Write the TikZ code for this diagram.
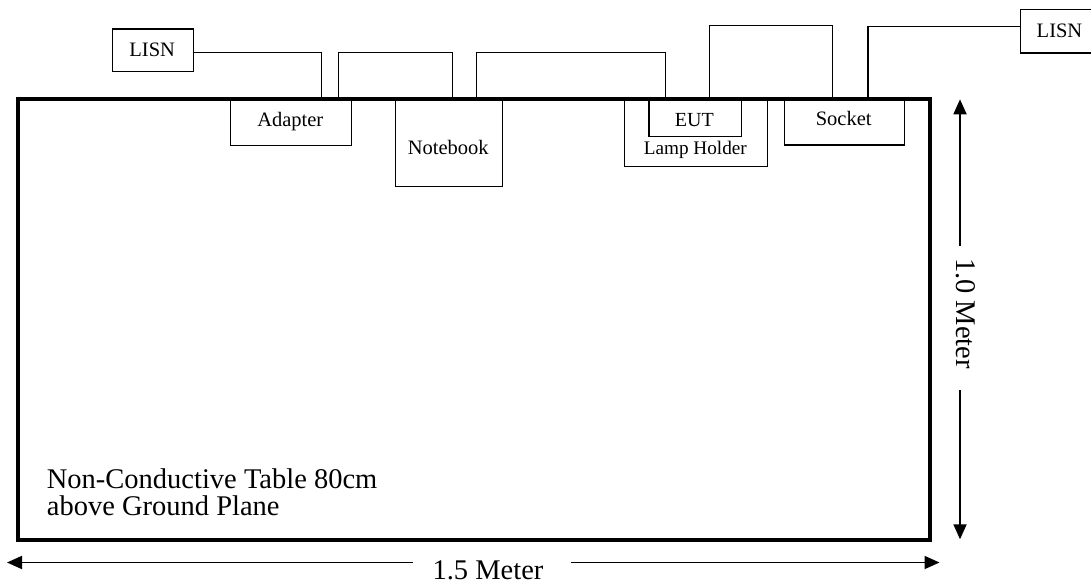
\documentclass[tikz,border=0pt]{standalone}
\usepackage{fontspec}
\setmainfont{Liberation Serif}
\usetikzlibrary{arrows.meta}
\tikzset{
  box/.style={draw, line width=1.3pt, inner sep=0pt, anchor=north west,
    font=\fontsize{20.5}{24}\selectfont},
  wire/.style={line width=1.3pt},
  table/.style={line width=4pt},
  dim/.style={line width=1.8pt, -{Triangle[length=15pt, width=13pt]}},
  big/.style={font=\fontsize{28.5}{30}\selectfont, inner sep=0pt},
}
\begin{document}
\begin{tikzpicture}[x=1pt, y=-1pt]
\useasboundingbox (0,0) rectangle (1091,584);
% boxes
\node[box, minimum width=81pt, minimum height=42.7pt] (lisnA) at (111.7,28.3) {};
\node at (152.2,49.9) {\fontsize{20.5}{24}\selectfont LISN};
\node[box, minimum width=80pt, minimum height=43.3pt] (lisnB) at (1020,9) {};
\node at (1059.5,30.6) {\fontsize{20.5}{24}\selectfont LISN};
\node[box, minimum width=120.7pt, minimum height=46pt] (adapter) at (230,99) {};
\node[anchor=base, inner sep=0pt] (adapterT) at (290.3,126) {\fontsize{20.5}{24}\selectfont Adapter};
\node[box, minimum width=106.7pt, minimum height=87pt] (notebook) at (395,99) {};
\node[anchor=base, inner sep=0pt] (notebookT) at (448.3,154.3) {\fontsize{20.5}{24}\selectfont Notebook};
\node[box, minimum width=143.3pt, minimum height=67pt] (holder) at (623.7,99) {};
\node[anchor=base, inner sep=0pt] (holderT) at (695.3,154) {\fontsize{19.2}{22}\selectfont Lamp Holder};
\node[box, minimum width=92.3pt, minimum height=37pt] (eut) at (648.2,99) {};
\node[anchor=base, inner sep=0pt] (eutT) at (694.3,126) {\fontsize{20}{24}\selectfont EUT};
\node[box, minimum width=120pt, minimum height=45.3pt] (socket) at (783.7,99) {};
\node[anchor=base, inner sep=0pt] (socketT) at (843.7,125.3) {\fontsize{20.5}{24}\selectfont Socket};
% wires
\draw[wire] (lisnA.east |- 0,52.3) -| (321.7,0 |- adapter.north);
\draw[wire] (338.3,0 |- adapter.north) |- (452.3,52.3) -- (452.3,0 |- notebook.north);
\draw[wire] (476.7,0 |- notebook.north) |- (665.2,52.3) -- (665.2,0 |- eut.north);
\draw[wire] (709.2,0 |- eut.north) |- (832.4,25.7) -- (832.4,0 |- socket.north);
\draw[wire] (868,0 |- socket.north) |- (lisnB.west |- 0,26.7);
% table
\draw[table] (18.3,98.8) rectangle (929.6,539.5);
\node[big, anchor=base west] (tab1) at (46.7,488.3) {Non-Conductive Table 80cm};
\node[big, anchor=base west] (tab2) at (46.7,515) {above Ground Plane};
% horizontal dimension
\coordinate (hL) at (7,562.5);
\coordinate (hR) at (939.5,562.5);
\node[big, anchor=base] (dimH) at (488,579.3) {1.5 Meter};
\draw[dim] (412.7,562.5) -- (hL);
\draw[dim] (570.6,562.5) -- (hR);
% vertical dimension
\coordinate (vT) at (960,99.3);
\coordinate (vB) at (960,539.3);
\node[big, rotate=-90, anchor=base] (dimV) at (956.5,313.4) {1.0 Meter};
\draw[dim] (960,246) -- (vT);
\draw[dim] (960,390) -- (vB);
\end{tikzpicture}
\end{document}
